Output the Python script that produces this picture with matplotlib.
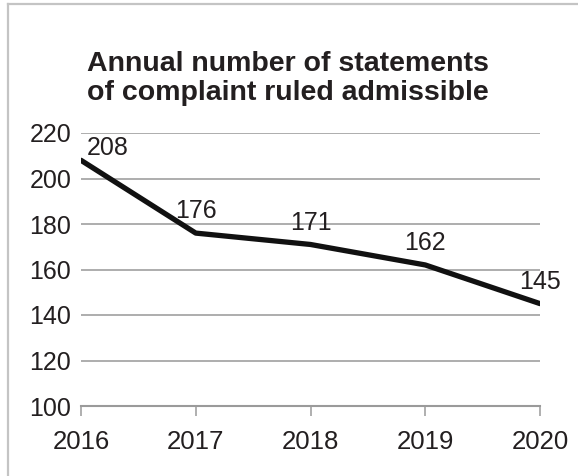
import matplotlib
matplotlib.use("Agg")
import matplotlib.pyplot as plt
from matplotlib.lines import Line2D

plt.rcParams['font.family'] = ['Liberation Sans', 'DejaVu Sans']

years = [2016, 2017, 2018, 2019, 2020]
admissible = [208, 176, 171, 162, 145]
y_ticks = [100, 120, 140, 160, 180, 200, 220]
title = "Annual number of statements\nof complaint ruled admissible"

text_color = "#231f20"
grid_color = "#a7a7a7"

fig = plt.figure(figsize=(5.78, 4.76), dpi=100)
ax = fig.add_axes([81 / 578, 1 - 406 / 476, (540 - 81) / 578, (406 - 133) / 476])

# outer frame (top and left edges)
fig.add_artist(Line2D([8 / 578, 1], [1 - 4 / 476, 1 - 4 / 476], transform=fig.transFigure,
                      color="#c4c4c4", lw=1.6))
fig.add_artist(Line2D([8 / 578, 8 / 578], [0, 1 - 4 / 476], transform=fig.transFigure,
                      color="#c4c4c4", lw=1.6))

ax.plot(years, admissible, color="#111111", lw=3.8, solid_capstyle="round",
        solid_joinstyle="round", zorder=3)

for i, (x, v) in enumerate(zip(years, admissible)):
    if i == 0:
        ax.annotate(str(v), (x, v), xytext=(4, 0), textcoords="offset points",
                    ha="left", va="bottom", fontsize=18, color=text_color)
    else:
        ax.annotate(str(v), (x, v), xytext=(0, 7), textcoords="offset points",
                    ha="center", va="bottom", fontsize=18, color=text_color)

ax.set_xlim(years[0], years[-1])
ax.set_ylim(y_ticks[0], y_ticks[-1])
ax.set_xticks(years)
ax.set_yticks(y_ticks)
ax.set_xticklabels([str(y) for y in years])

ax.grid(axis="y", color=grid_color, lw=1.3)
ax.set_axisbelow(True)
for side in ["left", "right", "top"]:
    ax.spines[side].set_visible(False)
ax.spines["bottom"].set_color("#9a9a9a")
ax.spines["bottom"].set_linewidth(1.5)

ax.tick_params(axis="x", length=7.5, width=1.1, color="#9a9a9a", pad=10,
               labelsize=18.5, labelcolor=text_color)
ax.tick_params(axis="y", length=0, pad=7, labelsize=18, labelcolor=text_color)

fig.text(288 / 578, 1 - 51 / 476, title, ha="center", va="top", fontsize=20.5,
         fontweight="bold", color=text_color, linespacing=1.15)

fig.savefig("out.png", dpi=100)
